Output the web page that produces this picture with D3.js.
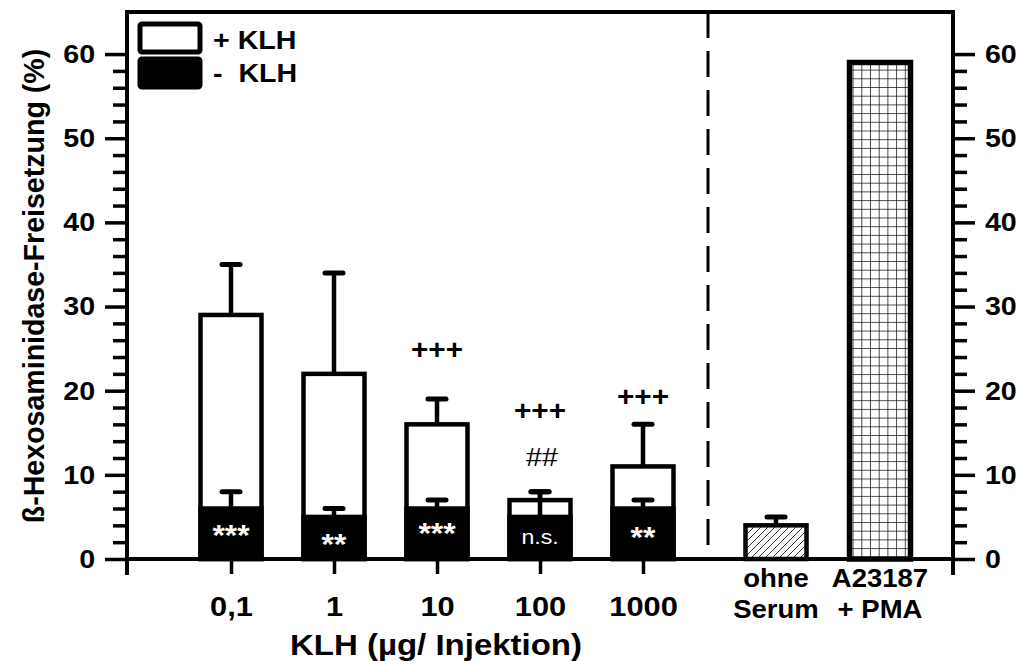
<!DOCTYPE html>
<html>
<head>
<meta charset="utf-8">
<script src="https://cdn.jsdelivr.net/npm/d3@7"></script>
<style>
  html, body { margin: 0; padding: 0; background: #fff; }
  svg { display: block; }
  text { font-family: "Liberation Sans", Arial, sans-serif; }
</style>
</head>
<body>
<svg id="chart" width="1018" height="661"></svg>
<script>
// KLH dose groups (µg per injection)
const doses = ["0,1", "1", "10", "100", "1000"];
// release with antigen (+ KLH), mean and upper error bar top
const plusKLH = [29, 22, 16, 7, 11];
const plusKLHErrTop = [35, 34, 19, 8, 16];
// release without antigen (- KLH)
const minusKLH = [6, 5, 6, 5, 6];
const minusKLHErrTop = [8, 6, 7, 8, 7];
// significance marks
const innerMarks = ["***", "**", "***", "n.s.", "**"];
const plusMarks = ["", "", "+++", "+++", "+++"];
const hashMarks = ["", "", "", "##", ""];
// controls
const controls = ["ohne Serum", "A23187 + PMA"];
const controlLines = [["ohne", "Serum"], ["A23187", "+ PMA"]];
const controlValues = [4, 59];
const controlErrTop = [5, null];
// axis ticks
const majorTicks = [0, 10, 20, 30, 40, 50, 60];
const minorTicks = [2, 4, 6, 8, 12, 14, 16, 18, 22, 24, 26, 28, 32, 34, 36, 38, 42, 44, 46, 48, 52, 54, 56, 58];
const legendItems = ["+ KLH", "-  KLH"];

const svg = d3.select("#chart");
const pL = 127, pR = 953, pT = 12, pB = 559;
const y = d3.scaleLinear().domain([0, 65]).range([pB, pT]);
const x = d3.scalePoint().domain(doses).range([231, 643]);
const xc = d3.scalePoint().domain(controls).range([776, 880]);
const divider = 708;
const barW = 61;
const bold = "bold";
const sx = 1.1; // horizontal widening of the lettering

// text placed at (tx, ty) and widened horizontally
function label(parent, tx, ty) {
  return parent.append("text").attr("transform", `translate(${tx},${ty}) scale(${sx},1)`);
}

// patterns
const defs = svg.append("defs");
const diag = defs.append("pattern").attr("id", "diag").attr("patternUnits", "userSpaceOnUse")
  .attr("width", 7).attr("height", 7);
diag.append("path").attr("d", "M-1,8 L8,-1 M-2,2 L2,-2 M5,9 L9,5")
  .attr("stroke", "#333").attr("stroke-width", 1);
const grid = defs.append("pattern").attr("id", "grid").attr("patternUnits", "userSpaceOnUse")
  .attr("width", 8.7).attr("height", 8.7).attr("x", 0).attr("y", 0);
grid.append("rect").attr("width", 8.7).attr("height", 8.7).attr("fill", "#fff");
grid.append("path").attr("d", "M0,0 V8.7 M0,0 H8.7")
  .attr("stroke", "#111").attr("stroke-width", 1.5);

// divider between dose groups and controls
svg.append("line").attr("x1", divider).attr("x2", divider).attr("y1", pT).attr("y2", pB)
  .attr("stroke", "#000").attr("stroke-width", 3).attr("stroke-dasharray", "26,13");

// error bar helper
function errBar(g, cx, from, to) {
  g.append("line").attr("x1", cx).attr("x2", cx).attr("y1", y(from)).attr("y2", y(to))
    .attr("stroke", "#000").attr("stroke-width", 4.5);
  g.append("line").attr("x1", cx - 9).attr("x2", cx + 9).attr("y1", y(to)).attr("y2", y(to))
    .attr("stroke", "#000").attr("stroke-width", 5).attr("stroke-linecap", "round");
}

// + KLH bars
const gPlus = svg.append("g");
doses.forEach((d, i) => {
  gPlus.append("rect").attr("x", x(d) - barW / 2).attr("width", barW)
    .attr("y", y(plusKLH[i])).attr("height", y(0) - y(plusKLH[i]))
    .attr("fill", "#fff").attr("stroke", "#000").attr("stroke-width", 4.5);
  errBar(gPlus, x(d), plusKLH[i], plusKLHErrTop[i]);
});
// - KLH bars
const gMinus = svg.append("g");
doses.forEach((d, i) => {
  gMinus.append("rect").attr("x", x(d) - barW / 2).attr("width", barW)
    .attr("y", y(minusKLH[i])).attr("height", y(0) - y(minusKLH[i]))
    .attr("fill", "#000").attr("stroke", "#000").attr("stroke-width", 4.5);
  errBar(gMinus, x(d), minusKLH[i], minusKLHErrTop[i]);
});

// control bars
controls.forEach((c, i) => {
  svg.append("rect").attr("x", xc(c) - barW / 2).attr("width", barW)
    .attr("y", y(controlValues[i])).attr("height", y(0) - y(controlValues[i]))
    .attr("fill", i === 0 ? "url(#diag)" : "url(#grid)")
    .attr("stroke", "#000").attr("stroke-width", i === 0 ? 4.5 : 5.5);
  if (controlErrTop[i] != null) errBar(svg, xc(c), controlValues[i], controlErrTop[i]);
});

// marks inside the black bars
const markY = [527, 536, 525, 537, 529];
doses.forEach((d, i) => {
  const ns = innerMarks[i] === "n.s.";
  label(svg, x(d), markY[i])
    .attr("text-anchor", "middle").attr("dy", ns ? "0.35em" : "0.62em")
    .attr("fill", "#fff").attr("font-weight", ns ? "normal" : bold)
    .attr("font-size", ns ? 21 : 29).text(innerMarks[i]);
});
// marks above the bars
const plusY = [0, 0, 350, 411, 397];
doses.forEach((d, i) => {
  if (!plusMarks[i]) return;
  label(svg, x(d), plusY[i]).attr("dy", "0.35em")
    .attr("text-anchor", "middle").attr("font-weight", bold).attr("font-size", 27)
    .text(plusMarks[i]);
});
doses.forEach((d, i) => {
  if (!hashMarks[i]) return;
  label(svg, x(d) + 2, 457).attr("dy", "0.35em")
    .attr("text-anchor", "middle").attr("font-size", 26).text(hashMarks[i]);
});

// frame and axes
const frame = svg.append("g").attr("stroke", "#000").attr("stroke-width", 4).attr("fill", "none");
frame.append("path").attr("d", `M${pL},${pB + 16} V${pT} H${pR} V${pB + 16}`)
  .attr("stroke-linejoin", "miter");
frame.append("line").attr("x1", pL).attr("x2", pR).attr("y1", pB).attr("y2", pB);

function styleAxis(g) {
  g.select(".domain").remove();
  g.selectAll(".tick line").attr("stroke", "#000").attr("stroke-width", 3.5);
  g.selectAll(".tick text").attr("font-family", "Liberation Sans, Arial, sans-serif")
    .attr("font-weight", bold).attr("font-size", 26).attr("fill", "#000")
    .attr("transform", `scale(${sx},1)`);
}
svg.append("g").attr("transform", `translate(${pL},0)`)
  .call(d3.axisLeft(y).tickValues(majorTicks).tickSize(22).tickPadding(7))
  .call(styleAxis);
svg.append("g").attr("transform", `translate(${pL},0)`)
  .call(d3.axisLeft(y).tickValues(minorTicks).tickSize(14).tickFormat(""))
  .call(styleAxis);
svg.append("g").attr("transform", `translate(${pR},0)`)
  .call(d3.axisRight(y).tickValues(majorTicks).tickSize(22).tickPadding(7))
  .call(styleAxis);
svg.append("g").attr("transform", `translate(${pR},0)`)
  .call(d3.axisRight(y).tickValues(minorTicks).tickSize(14).tickFormat(""))
  .call(styleAxis);
svg.append("g").attr("transform", `translate(0,${pB})`)
  .call(d3.axisBottom(x).tickSize(15).tickPadding(22))
  .call(styleAxis)
  .call(g => g.selectAll(".tick text").attr("font-size", 28));

// control labels
controls.forEach((c, i) => {
  const t = label(svg, xc(c), 0).attr("text-anchor", "middle")
    .attr("font-weight", bold).attr("font-size", 25);
  t.append("tspan").attr("x", 0).attr("y", 587).text(controlLines[i][0]);
  t.append("tspan").attr("x", 0).attr("y", 618).text(controlLines[i][1]);
});

// axis titles
label(svg, 436, 655).attr("text-anchor", "middle")
  .attr("font-weight", bold).attr("font-size", 30).text("KLH (µg/ Injektion)");
svg.append("text").attr("transform", "translate(44,286) rotate(-90) scale(1.02,1.08)")
  .attr("text-anchor", "middle").attr("font-weight", bold).attr("font-size", 28)
  .text("ß-Hexosaminidase-Freisetzung (%)");

// legend
const legend = svg.append("g");
legendItems.forEach((l, i) => {
  legend.append("rect").attr("x", 140).attr("y", 24 + i * 35).attr("width", 60).attr("height", 28)
    .attr("rx", 2).attr("fill", i === 0 ? "#fff" : "#000")
    .attr("stroke", "#000").attr("stroke-width", 5);
  label(legend, 213, 40 + i * 33).attr("dy", "0.36em")
    .attr("font-weight", bold).attr("font-size", 26)
    .style("white-space", "pre").text(l);
});
</script>
</body>
</html>
